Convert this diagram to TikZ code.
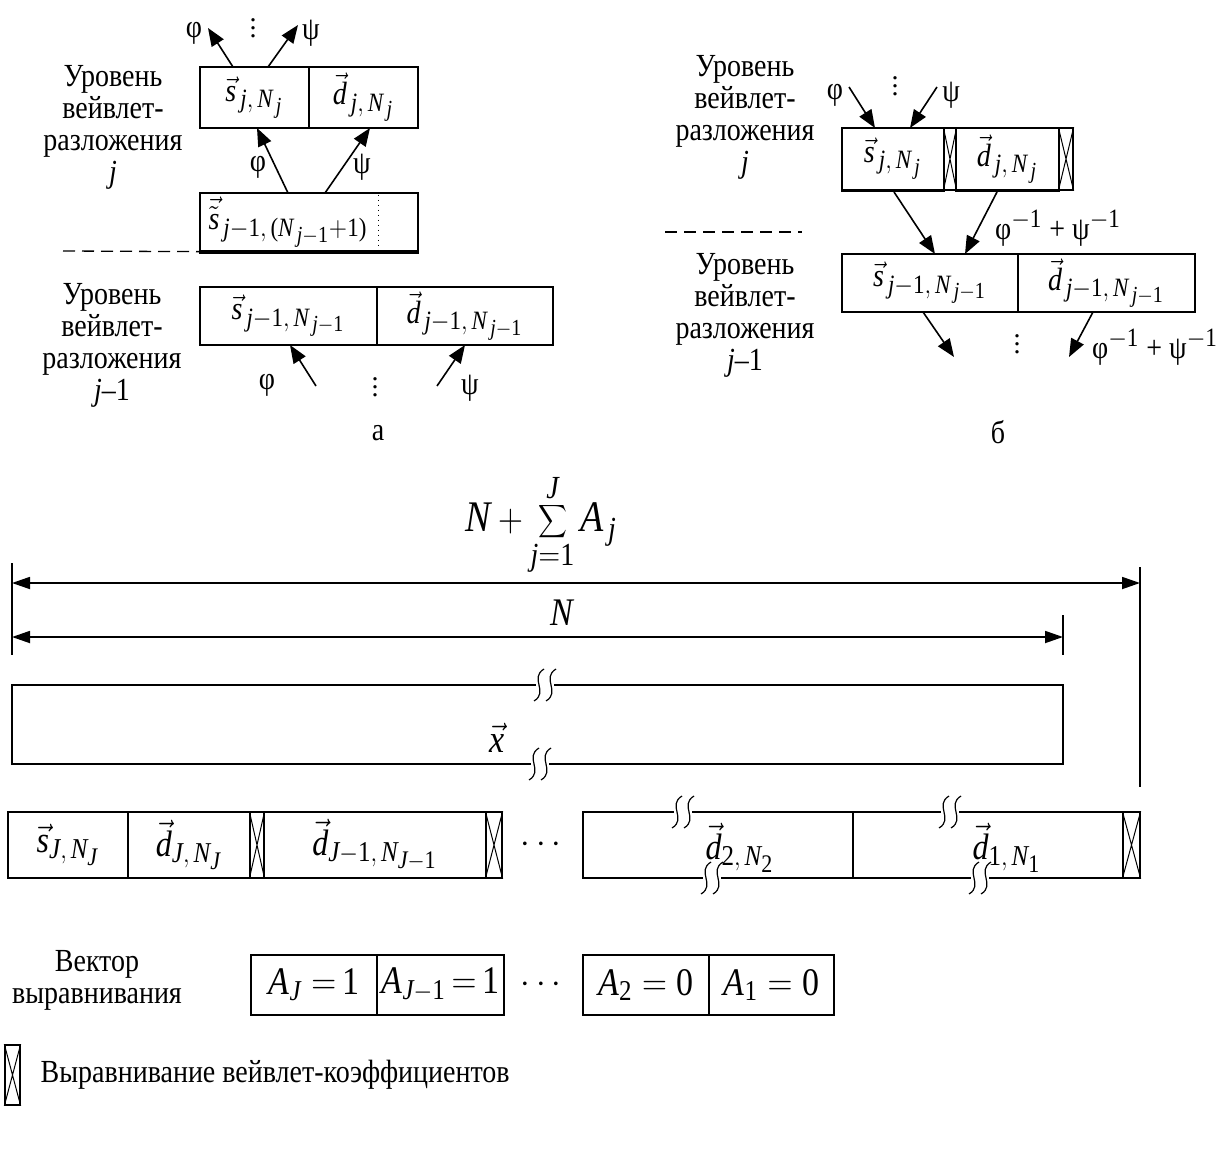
\documentclass[tikz,border=0pt]{standalone}
\usepackage[no-math]{fontspec}
\setmainfont{Liberation Serif}
\DeclareSymbolFont{tnrit}{TU}{\rmdefault}{m}{it}
\DeclareSymbolFont{tnrup}{TU}{\rmdefault}{m}{n}
\DeclareMathSymbol{s}{\mathalpha}{tnrit}{`s}
\DeclareMathSymbol{d}{\mathalpha}{tnrit}{`d}
\DeclareMathSymbol{j}{\mathalpha}{tnrit}{`j}
\DeclareMathSymbol{x}{\mathalpha}{tnrit}{`x}
\DeclareMathSymbol{N}{\mathalpha}{tnrit}{`N}
\DeclareMathSymbol{J}{\mathalpha}{tnrit}{`J}
\DeclareMathSymbol{A}{\mathalpha}{tnrit}{`A}
\DeclareMathSymbol{0}{\mathalpha}{tnrup}{`0}
\DeclareMathSymbol{1}{\mathalpha}{tnrup}{`1}
\DeclareMathSymbol{2}{\mathalpha}{tnrup}{`2}
\DeclareMathSymbol{(}{\mathopen}{tnrup}{`(}
\DeclareMathSymbol{)}{\mathclose}{tnrup}{`)}
\DeclareMathSizes{14}{14}{11.5}{10}
\DeclareMathSizes{16}{16}{12.5}{11}
\DeclareMathSizes{17}{17}{12.5}{11}
\DeclareMathSizes{19}{19}{14}{12}
\usetikzlibrary{arrows.meta,calc}
\newcommand\st[1]{\scalebox{1}[1.15]{#1}}
\newcommand\lines[1]{\st{\begin{tabular}{@{}c@{}}#1\end{tabular}}}
\newcommand\mkcell[6]{\node[box, minimum width={(#4-#2)*0.5pt}, minimum height={(#5-#3)*0.5pt}] (#1) at ({(#2+#4)/2},{(#3+#5)/2}) {\st{#6}};}
\newcommand\mkhatch[5]{\node[box, minimum width={(#4-#2)*0.5pt}, minimum height={(#5-#3)*0.5pt}] (#1) at ({(#2+#4)/2},{(#3+#5)/2}) {};\draw[line width=0.5pt] (#1.north west)--(#1.south east) (#1.south west)--(#1.north east);}
\newcommand\rowf{\fontsize{16}{18}\selectfont}
\begin{document}
\begin{tikzpicture}[x=0.5pt,y=-0.5pt, line width=0.65pt, font=\fontsize{14}{14}\selectfont,
 box/.style={draw, inner sep=0pt, line width=0.65pt},
 arr/.style={-{Triangle[length=9pt,width=7pt]}, line width=0.8pt},
 dimline/.style={{Triangle[length=9pt,width=6pt]}-{Triangle[length=9pt,width=6pt]}, line width=0.9pt},
 lvl/.style={align=center, inner sep=0pt},
 txt/.style={inner sep=0pt},
 dsh/.style={dash pattern=on 6pt off 3.5pt, line width=0.65pt},
 big/.style={font=\fontsize{19}{21}\selectfont},
 brk/.pic={\fill[white] (-9,-2.5) rectangle (9,2.5);
   \foreach \d in {-6,6}{\draw[line width=0.6pt] (\d+5,-16) .. controls (\d-10,-7) and (\d+10,7) .. (\d-5,16);}}]
\useasboundingbox (0,0) rectangle (1218,1160);

% ---------------- part a ----------------
\node[lvl] (lvA1) at (113,128) {\lines{Уровень\\вейвлет-\\разложения\\\textit{j}}};
\mkcell{as1}{200}{67}{309}{128}{$\vec{s}_{\,j,\,N_{\,j}}$}
\mkcell{ad1}{309}{67}{418}{128}{$\vec{d}_{\,j,\,N_{\,j}}$}
\coordinate (pu1) at (208,28); \coordinate (pu2) at (298,25);
\coordinate (as1a) at (233,67); \coordinate (as1b) at (268,67);
\draw[arr] (as1a) -- (pu1);
\draw[arr] (as1b) -- (pu2);
\node[txt] (phiA1) at (194,33) {\st{φ}};
\node[txt] (psiA1) at (311,33) {\st{ψ}};
\node[txt] (dotsA1) at (253,22) {$\vdots$};

\mkcell{at}{200}{193}{418}{251}{}
\node[txt] (atl) at (288,222) {\st{$\vec{\tilde{s}}_{\,j-1,\,(N_{\,j-1}+1)}$}};
\coordinate (dtt) at (378,195); \coordinate (dtb) at (378,250);
\draw[dotted, line width=0.5pt] (dtt) -- (dtb);
\draw[line width=2pt] (at.south west) -- (at.south east);
\coordinate (dashL) at (63,251);
\draw[dsh] (dashL) -- (at.south west);
\coordinate (at1) at (288,193); \coordinate (at2) at (325,193);
\coordinate (as1c) at (257,128); \coordinate (ad1c) at (370,128);
\draw[arr] (at1) -- (as1c);
\draw[arr] (at2) -- (ad1c);
\node[txt] (phiA2) at (258,167) {\st{φ}};
\node[txt] (psiA2) at (362,167) {\st{ψ}};

\mkcell{as0}{200}{287}{377}{345}{$\vec{s}_{\,j-1,\,N_{\,j-1}}$}
\mkcell{ad0}{377}{287}{553}{345}{$\vec{d}_{\,j-1,\,N_{\,j-1}}$}
\coordinate (ia1) at (316,386); \coordinate (ia2) at (437,386);
\coordinate (as0c) at (290,345); \coordinate (ad0c) at (465,345);
\draw[arr] (ia1) -- (as0c);
\draw[arr] (ia2) -- (ad0c);
\node[txt] (phiA3) at (267,385) {\st{φ}};
\node[txt] (psiA3) at (470,388) {\st{ψ}};
\node[txt] (dotsA3) at (375,381) {$\vdots$};
\node[lvl] (lvA0) at (112,346) {\lines{Уровень\\вейвлет-\\разложения\\\textit{j}–1}};
\node[txt] (capA) at (378,433) {\st{а}};

% ---------------- part b ----------------
\node[lvl] (lvB1) at (745,118) {\lines{Уровень\\вейвлет-\\разложения\\\textit{j}}};
\coordinate (dB1) at (665,232); \coordinate (dB2) at (802,232);
\draw[dsh] (dB1) -- (dB2);
\node[lvl] (lvB0) at (745,316) {\lines{Уровень\\вейвлет-\\разложения\\\textit{j}–1}};

\mkcell{bs1}{842}{128}{944}{190}{$\vec{s}_{\,j,\,N_{\,j}}$}
\mkhatch{bh1}{944}{128}{956}{190}
\mkcell{bd1}{956}{128}{1059}{190}{$\vec{d}_{\,j,\,N_{\,j}}$}
\mkhatch{bh2}{1059}{128}{1073}{190}
\draw[line width=1.5pt] (bs1.south west) -- (bs1.south east);
\draw[line width=1.5pt] (bd1.south west) -- (bd1.south east);
\coordinate (ib1) at (849,87); \coordinate (ib2) at (937,87);
\coordinate (bs1a) at (875,128); \coordinate (bs1b) at (910,128);
\draw[arr] (ib1) -- (bs1a);
\draw[arr] (ib2) -- (bs1b);
\node[txt] (phiB1) at (835,95) {\st{φ}};
\node[txt] (psiB1) at (951,95) {\st{ψ}};
\node[txt] (dotsB1) at (895,80) {$\vdots$};

\mkcell{bs0}{842}{254}{1018}{312}{$\vec{s}_{\,j-1,\,N_{\,j-1}}$}
\mkcell{bd0}{1018}{254}{1195}{312}{$\vec{d}_{\,j-1,\,N_{\,j-1}}$}
\coordinate (bs1o) at (894,192); \coordinate (bd1o) at (997,192);
\coordinate (bs0i) at (935,254); \coordinate (bs0j) at (965,254);
\draw[arr] (bs1o) -- (bs0i);
\draw[arr] (bd1o) -- (bs0j);
\node[txt] (invB1) at (1058,228) {\st{φ$^{-1}$ + ψ$^{-1}$}};
\coordinate (bs0o) at (923,312); \coordinate (bd0o) at (1093,312);
\coordinate (ob1) at (954,357); \coordinate (ob2) at (1069,357);
\draw[arr] (bs0o) -- (ob1);
\draw[arr] (bd0o) -- (ob2);
\node[txt] (dotsB2) at (1017,338) {$\vdots$};
\node[txt] (invB2) at (1155,347) {\st{φ$^{-1}$ + ψ$^{-1}$}};
\node[txt] (capB) at (998,432) {\st{б}};

% ---------------- middle ----------------
\node[txt, big] (sumf) at (541,525) {\st{$\displaystyle N+\sum_{j=1}^{J}A_{\,j}$}};
\coordinate (bLt) at (12,563); \coordinate (bLb) at (12,655);
\coordinate (bRt) at (1140,567); \coordinate (bRb) at (1140,787);
\coordinate (bNt) at (1063,615); \coordinate (bNb) at (1063,655);
\draw (bLt) -- (bLb);
\draw (bRt) -- (bRb);
\draw (bNt) -- (bNb);
\coordinate (d1L) at (12,583); \coordinate (d1R) at (1140,583);
\coordinate (d2L) at (12,637); \coordinate (d2R) at (1063,637);
\draw[dimline] (d1L) -- (d1R);
\draw[dimline] (d2L) -- (d2R);
\node[txt, font=\fontsize{17}{20}\selectfont] (Nlab) at (562,613) {\st{$N$}};
\mkcell{xv}{12}{685}{1063}{764}{}
\node[txt, font=\fontsize{17}{20}\selectfont] (xlab) at (497,738) {\st{$\vec{x}$}};
\pic at (545,685) {brk};
\pic at (540,764) {brk};

% ---------------- row of coefficients ----------------
\mkcell{sJ}{8}{812}{128}{878}{\rowf$\vec{s}_{J,\,N_J}$}
\mkcell{dJ}{128}{812}{250}{878}{\rowf$\vec{d}_{J,\,N_J}$}
\mkhatch{hJ}{250}{812}{264}{878}
\mkcell{dJ1}{264}{812}{486}{878}{\rowf$\vec{d}_{J-1,\,N_{J-1}}$}
\mkhatch{hJ1}{486}{812}{502}{878}
\node[txt] (rdots) at (541,845) {\rowf$\cdots$};
\mkcell{d2}{583}{812}{853}{878}{}
\mkcell{d1}{853}{812}{1123}{878}{}
\mkhatch{h1}{1123}{812}{1140}{878}
\pic at (683,812) {brk};
\pic at (712,878) {brk};
\pic at (950,812) {brk};
\pic at (980,878) {brk};
\node[txt] (d2l) at (740,848) {\st{\rowf$\vec{d}_{2,\,N_2}$}};
\node[txt] (d1l) at (1007,848) {\st{\rowf$\vec{d}_{1,\,N_1}$}};

% ---------------- alignment vector ----------------
\node[lvl] (vecl) at (97,981) {\lines{Вектор\\выравнивания}};
\mkcell{aJ}{251}{955}{377}{1015}{\fontsize{17}{20}\selectfont$A_J\;{=}\,1$}
\mkcell{aJ1}{377}{955}{504}{1015}{\fontsize{17}{20}\selectfont$A_{J-1}\,{=}\,1$}
\node[txt] (adots) at (541,985) {\fontsize{17}{20}\selectfont$\cdots$};
\mkcell{a2}{583}{955}{709}{1015}{\fontsize{17}{20}\selectfont$A_2={}0$}
\mkcell{a1}{709}{955}{834}{1015}{\fontsize{17}{20}\selectfont$A_1={}0$}

% ---------------- legend ----------------
\mkhatch{leg}{5}{1045}{20}{1105}
\node[txt, anchor=west] (legt) at (40,1075) {\st{Выравнивание вейвлет-коэффициентов}};
\end{tikzpicture}
\end{document}
